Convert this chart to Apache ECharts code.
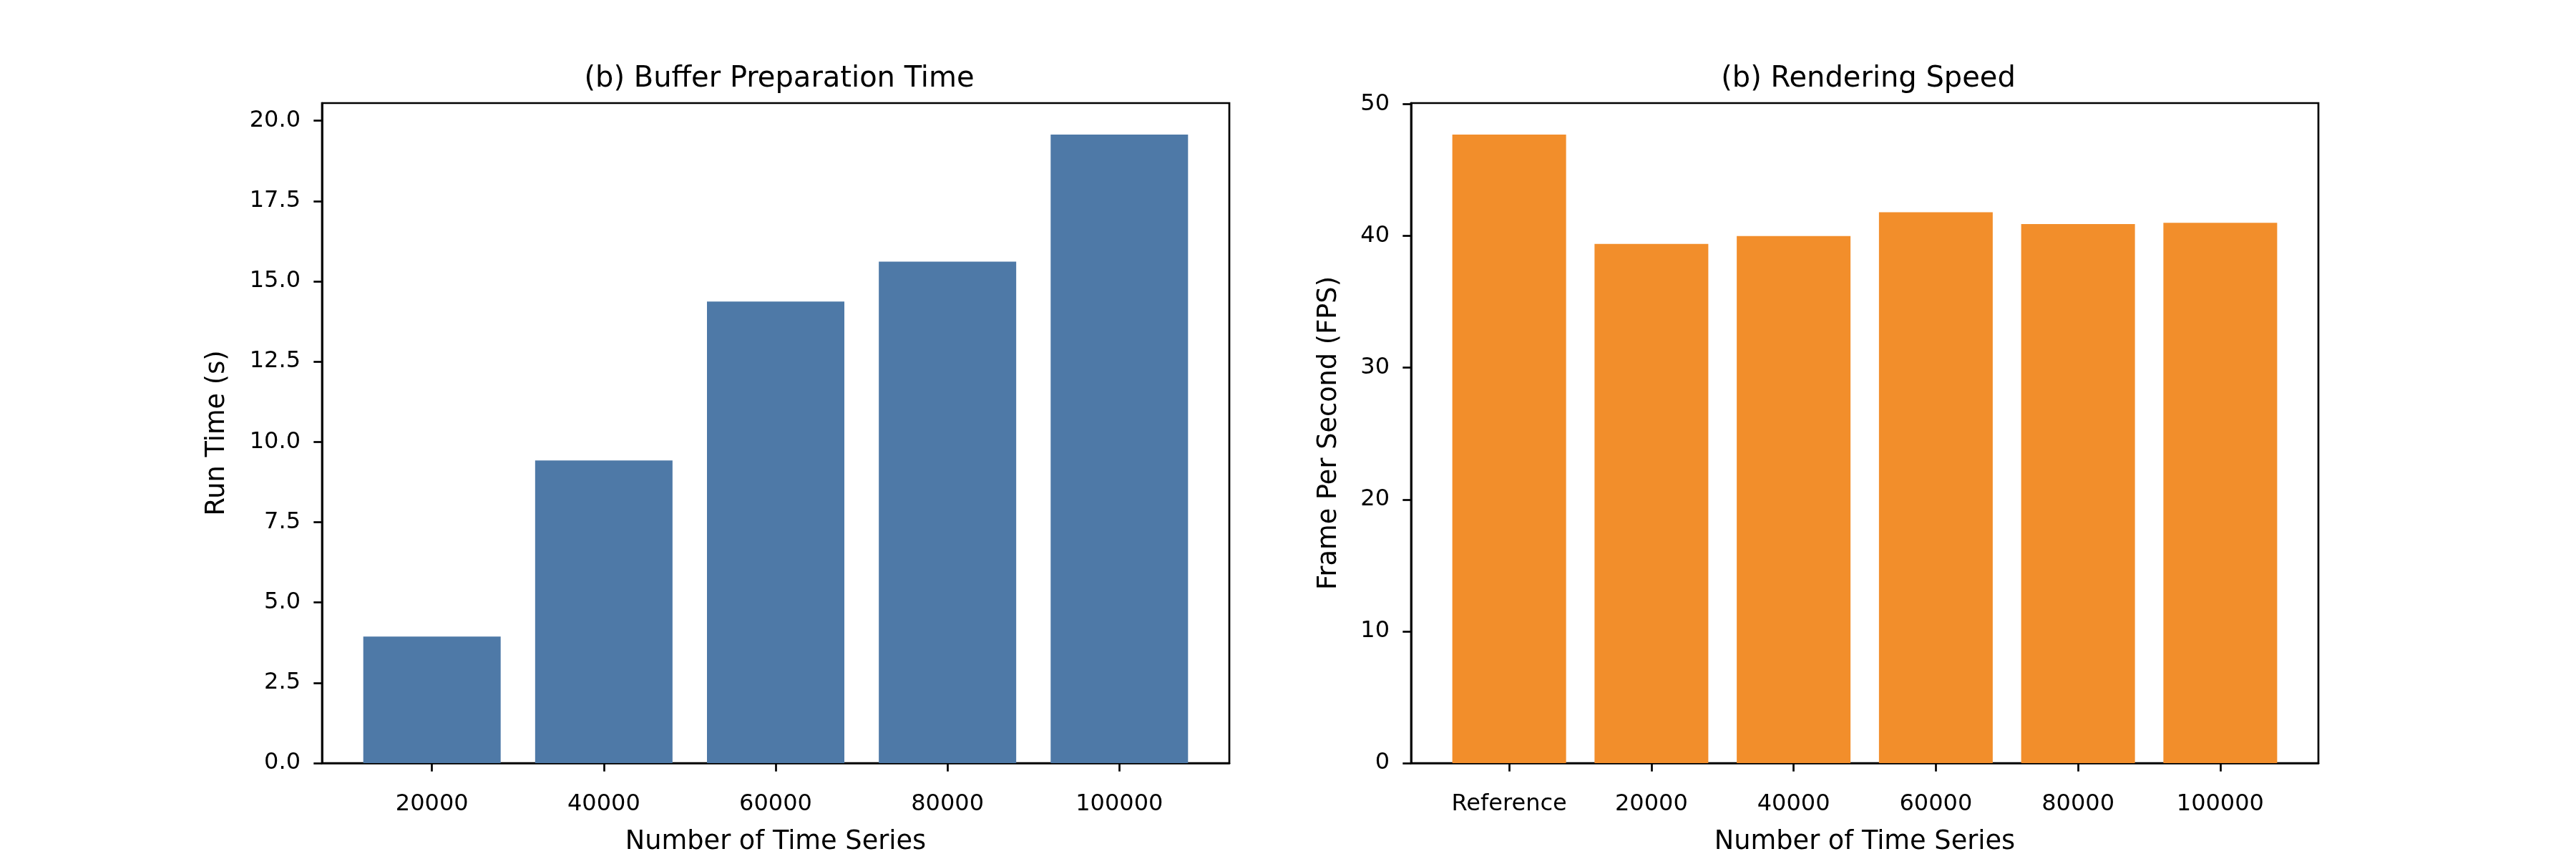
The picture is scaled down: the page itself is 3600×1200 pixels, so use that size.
<!DOCTYPE html>
<html><head><meta charset="utf-8">
<script src="https://cdn.jsdelivr.net/npm/echarts@6/dist/echarts.min.js"></script>
<style>html,body{margin:0;padding:0;background:#fff}#c{width:3600px;height:1200px}</style>
</head><body><div id="c"></div>
<script>
const leftTitle = '(b) Buffer Preparation Time';
const rightTitle = '(b) Rendering Speed';
const leftCategories = ['20000', '40000', '60000', '80000', '100000'];
const leftValues = [3.94, 9.42, 14.37, 15.61, 19.57];
const leftYTicks = [0, 2.5, 5, 7.5, 10, 12.5, 15, 17.5, 20];
const rightCategories = ['Reference', '20000', '40000', '60000', '80000', '100000'];
const rightValues = [47.7, 39.4, 40.0, 41.8, 40.9, 41.0];
const rightYTicks = [0, 10, 20, 30, 40, 50];
const xName = 'Number of Time Series';
const leftYName = 'Run Time (s)';
const rightYName = 'Frame Per Second (FPS)';

const FONT = 'DejaVu Sans';
const TICK = 32, NAME = 36.7, TITLE = 40;
const LW = 2.7, TL = 11.7;

function xAxisFor(gridIndex, cats) {
  const idx = cats.map((_, i) => i);
  return {
    type: 'value', gridIndex,
    min: -0.4 - 0.05 * (cats.length - 1 + 0.8),
    max: cats.length - 1 + 0.4 + 0.05 * (cats.length - 1 + 0.8),
    name: xName, nameLocation: 'middle', nameGap: 92,
    nameTextStyle: { fontFamily: FONT, fontSize: NAME, color: '#000' },
    axisLine: { show: true, onZero: false, lineStyle: { color: '#000', width: LW } },
    axisTick: { show: true, inside: false, length: TL, customValues: idx, lineStyle: { color: '#000', width: LW } },
    axisLabel: { show: true, margin: 42, customValues: idx, fontFamily: FONT, fontSize: TICK, color: '#000',
      formatter: v => cats[Math.round(v)] },
    splitLine: { show: false }
  };
}
function yAxisFor(gridIndex, ticks, max, name, gap, fmt) {
  return {
    type: 'value', gridIndex, min: 0, max,
    name, nameLocation: 'middle', nameGap: gap,
    nameTextStyle: { fontFamily: FONT, fontSize: NAME, color: '#000' },
    axisLine: { show: true, onZero: false, lineStyle: { color: '#000', width: LW } },
    axisTick: { show: true, inside: false, length: TL, customValues: ticks, lineStyle: { color: '#000', width: LW } },
    axisLabel: { show: true, margin: 30, customValues: ticks, fontFamily: FONT, fontSize: TICK, color: '#000', formatter: fmt },
    splitLine: { show: false }
  };
}

const chart = echarts.init(document.getElementById('c'), null, { renderer: 'canvas' });
chart.setOption({
  backgroundColor: '#fff',
  animation: false,
  title: [
    { text: leftTitle, left: 1084, top: 86, textAlign: 'center', textStyle: { fontFamily: FONT, fontSize: TITLE, fontWeight: 'normal', color: '#000' } },
    { text: rightTitle, left: 2606, top: 86, textAlign: 'center', textStyle: { fontFamily: FONT, fontSize: TITLE, fontWeight: 'normal', color: '#000' } }
  ],
  grid: [
    { left: 450, top: 144, width: 1268, height: 924, show: true, borderColor: '#000', borderWidth: LW, backgroundColor: 'transparent' },
    { left: 1972, top: 144, width: 1268, height: 924, show: true, borderColor: '#000', borderWidth: LW, backgroundColor: 'transparent' }
  ],
  xAxis: [xAxisFor(0, leftCategories), xAxisFor(1, rightCategories)],
  yAxis: [
    yAxisFor(0, leftYTicks, Math.max(...leftValues) * 1.05, leftYName, 128, v => v.toFixed(1)),
    yAxisFor(1, rightYTicks, Math.max(...rightValues) * 1.05, rightYName, 96, v => String(v))
  ],
  series: [
    { type: 'bar', xAxisIndex: 0, yAxisIndex: 0, barWidth: 192, itemStyle: { color: '#4e79a7' },
      data: leftValues.map((v, i) => [i, v]) },
    { type: 'bar', xAxisIndex: 1, yAxisIndex: 1, barWidth: 159, itemStyle: { color: '#f28e2b' },
      data: rightValues.map((v, i) => [i, v]) }
  ]
});
</script></body></html>
